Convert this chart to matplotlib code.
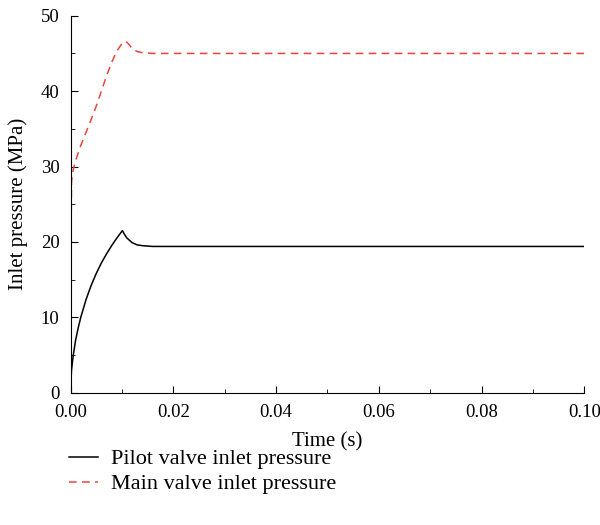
import matplotlib.pyplot as plt
from matplotlib.ticker import MultipleLocator

plt.rcParams['font.family'] = ['Liberation Serif', 'DejaVu Serif']
plt.rcParams['font.size'] = 15

# pilot valve inlet pressure (MPa)
t_pilot = [0.0, 0.0001, 0.0002, 0.0005, 0.001, 0.0015, 0.002, 0.003, 0.004, 0.005, 0.006, 0.007,
           0.008, 0.009, 0.0101, 0.0105, 0.011, 0.012, 0.013, 0.014, 0.016, 0.02, 0.05, 0.10]
p_pilot = [0.0, 1.8, 3.0, 4.8, 7.0, 8.6, 10.0, 12.3, 14.2, 15.8, 17.2, 18.4,
           19.5, 20.5, 21.5, 21.0, 20.5, 19.9, 19.6, 19.5, 19.4, 19.4, 19.4, 19.4]

# main valve inlet pressure (MPa)
t_main = [0.0, 0.0001, 0.0002, 0.0005, 0.001, 0.002, 0.003, 0.004, 0.005, 0.006, 0.007,
          0.008, 0.009, 0.010, 0.0108, 0.0115, 0.012, 0.013, 0.014, 0.016, 0.02, 0.05, 0.10]
p_main = [0.0, 20.0, 28.0, 29.5, 30.8, 32.8, 34.5, 36.2, 38.0, 40.0, 42.0,
          43.8, 45.3, 46.3, 46.6, 46.1, 45.6, 45.25, 45.1, 45.0, 45.0, 45.0, 45.0]

fig = plt.figure(figsize=(6, 5.25), dpi=100)
ax = fig.add_axes([0.1175, 0.252, 0.8565, 0.718])

ax.plot(t_pilot, p_pilot, color='black', lw=1.1, label='Pilot valve inlet pressure')
ax.plot(t_main, p_main, color='#e8453c', lw=1.1, ls=(0, (5, 3.5)), label='Main valve inlet pressure')

ax.set_xlim(0, 0.10)
ax.set_ylim(0, 50)
ax.xaxis.set_major_locator(MultipleLocator(0.02))
ax.xaxis.set_minor_locator(MultipleLocator(0.01))
ax.yaxis.set_major_locator(MultipleLocator(10))
ax.yaxis.set_minor_locator(MultipleLocator(5))
ax.xaxis.set_major_formatter(plt.FormatStrFormatter('%.2f'))
ax.tick_params(which='both', direction='in', labelsize=13.5)
ax.tick_params(which='major', length=5)
ax.tick_params(which='minor', length=3)
ax.tick_params(axis='y', pad=8)
ax.tick_params(axis='x', pad=8)
for s in ['top', 'right']:
    ax.spines[s].set_visible(False)

ax.set_xlabel('Time (s)', labelpad=8)
ax.set_ylabel('Inlet pressure (MPa)', labelpad=9)

fig.legend(loc='upper left', bbox_to_anchor=(0.082, 0.183), frameon=False,
           handlelength=1.3, handletextpad=0.6, labelspacing=0.2, fontsize=16)

plt.savefig('out.png', dpi=100)
